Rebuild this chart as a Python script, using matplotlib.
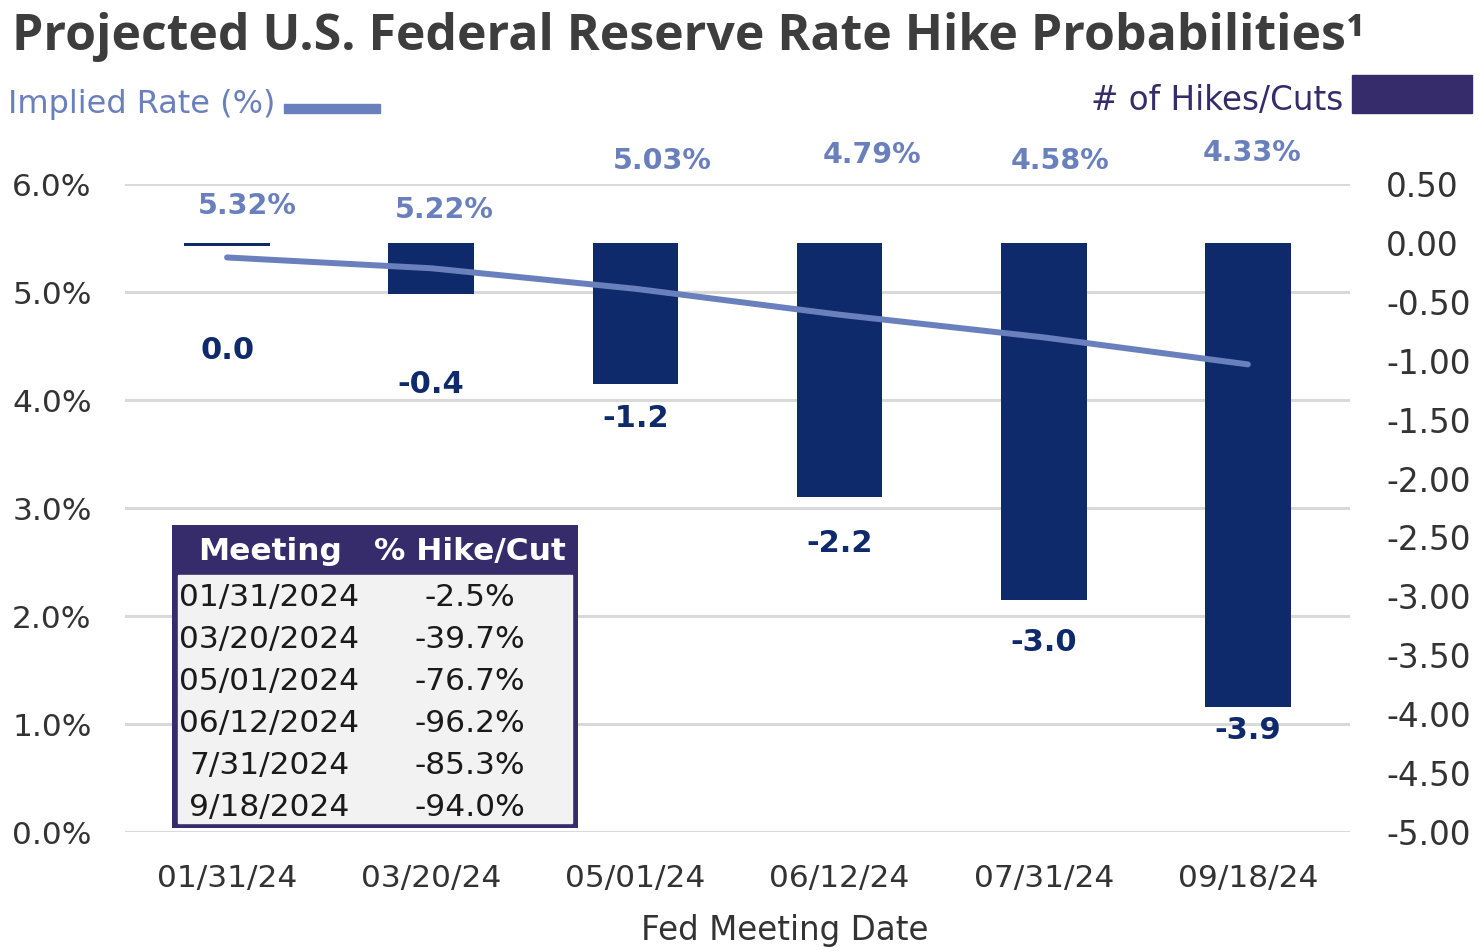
import numpy as np
import matplotlib.pyplot as plt
from matplotlib.patches import Rectangle

# data
meetings = ['01/31/24', '03/20/24', '05/01/24', '06/12/24', '07/31/24', '09/18/24']
implied_rate = [5.32, 5.22, 5.03, 4.79, 4.58, 4.33]
num_hikes = [-0.025, -0.43, -1.20, -2.16, -3.03, -3.94]
hike_labels = ['0.0', '-0.4', '-1.2', '-2.2', '-3.0', '-3.9']
table_dates = ['01/31/2024', '03/20/2024', '05/01/2024', '06/12/2024', '7/31/2024', '9/18/2024']
table_pct = ['-2.5%', '-39.7%', '-76.7%', '-96.2%', '-85.3%', '-94.0%']

# label placement (layout only)
rate_label_y = [5.80, 5.76, 6.21, 6.27, 6.21, 6.29]
rate_label_dx = [0.10, 0.065, 0.13, 0.16, 0.08, 0.02]
hike_label_y = [-0.91, -1.205, -1.49, -2.555, -3.395, -4.14]

bar_col = '#0e2a6b'
line_col = '#6a80bd'
purple = '#372c6b'
grey_txt = '#333333'

plt.rcParams['font.family'] = ['DejaVu Sans']

fig = plt.figure(figsize=(14.81, 9.51), dpi=100)
ax = fig.add_axes([0.0844, 0.1251, 0.8271, 0.6814])
ax_r = ax.twinx()

x = np.arange(len(meetings))

# left axis: implied rate
ax.set_xlim(-0.5, 5.5)
ax.set_ylim(0, 6)
ax.set_yticks(np.arange(0, 6.1, 1))
ax.set_yticklabels(['%.1f%%' % v for v in np.arange(0, 6.1, 1)])
ax.yaxis.grid(True, color='#d9d9d9', linewidth=2.2)
ax.set_axisbelow(True)
ax.set_xticks(x)
ax.set_xticklabels(meetings)
ax.tick_params(axis='y', length=0, pad=24, labelsize=22.5, labelcolor=grey_txt)
ax.tick_params(axis='x', length=0, pad=23, labelsize=22.5, labelcolor=grey_txt)

# right axis: number of hikes/cuts
ax_r.set_ylim(-5, 0.5)
rticks = np.arange(-5, 0.51, 0.5)
ax_r.set_yticks(rticks)
ax_r.set_yticklabels(['%.2f' % v for v in rticks])
ax_r.tick_params(axis='y', length=0, pad=26, labelsize=23.5, labelcolor=grey_txt)
ax_r.bar(x, num_hikes, width=0.42, color=bar_col, zorder=2)

for a in (ax, ax_r):
    for s in a.spines.values():
        s.set_visible(False)

# line on top of the bars
ax_r.plot(x, implied_rate, color=line_col, linewidth=4.3, solid_capstyle='round',
          transform=ax.transData, zorder=3)

for i in range(len(meetings)):
    ax_r.text(x[i] + rate_label_dx[i], rate_label_y[i], '%.2f%%' % implied_rate[i],
              transform=ax.transData, ha='center', va='center', fontsize=20.5,
              fontweight='bold', color=line_col, clip_on=False)
    ax_r.text(x[i], hike_label_y[i], hike_labels[i], ha='center', va='center',
              fontsize=22, fontweight='bold', color=bar_col)

# title and legend
fig.text(0.008, 0.947, 'Projected U.S. Federal Reserve Rate Hike Probabilities\u00b9',
         family=['Open Sans', 'DejaVu Sans'], fontweight='bold', fontsize=36,
         color='#3d3d3d', va='baseline', ha='left')
fig.text(0.0054, 0.8896, 'Implied Rate (%)', fontsize=23, color=line_col,
         ha='left', va='center')
fig.patches.append(Rectangle((0.1918, 0.8812), 0.0648, 0.0095, color=line_col,
                             transform=fig.transFigure, figure=fig))
fig.text(0.9068, 0.8948, '# of Hikes/Cuts', fontsize=23.5, color=purple,
         ha='right', va='center')
fig.patches.append(Rectangle((0.9129, 0.8812), 0.081, 0.04, color=purple,
                             transform=fig.transFigure, figure=fig))
fig.text(0.530, 0.022, 'Fed Meeting Date', fontsize=23.5, color=grey_txt,
         ha='center', va='center')

# table
tax = fig.add_axes([172 / 1481, 1 - 828 / 951, 406 / 1481, 303 / 951])
tax.set_xlim(0, 1)
tax.set_ylim(0, 1)
tax.axis('off')
tax.add_patch(Rectangle((0, 0), 1, 1, color=purple))
tax.add_patch(Rectangle((0.014, 0.017), 0.972, 0.818, color='#f2f2f2'))
tax.text(0.241, 0.914, 'Meeting', ha='center', va='center', fontsize=22.5,
         fontweight='bold', color='white')
tax.text(0.734, 0.914, '% Hike/Cut', ha='center', va='center', fontsize=22.5,
         fontweight='bold', color='white')
row_y = np.linspace(0.762, 0.069, len(table_dates))
for yy, d, p in zip(row_y, table_dates, table_pct):
    tax.text(0.239, yy, d, ha='center', va='center', fontsize=22.5, color='#1a1a1a')
    tax.text(0.734, yy, p, ha='center', va='center', fontsize=22.5, color='#1a1a1a')

fig.savefig('out.png', dpi=100)
